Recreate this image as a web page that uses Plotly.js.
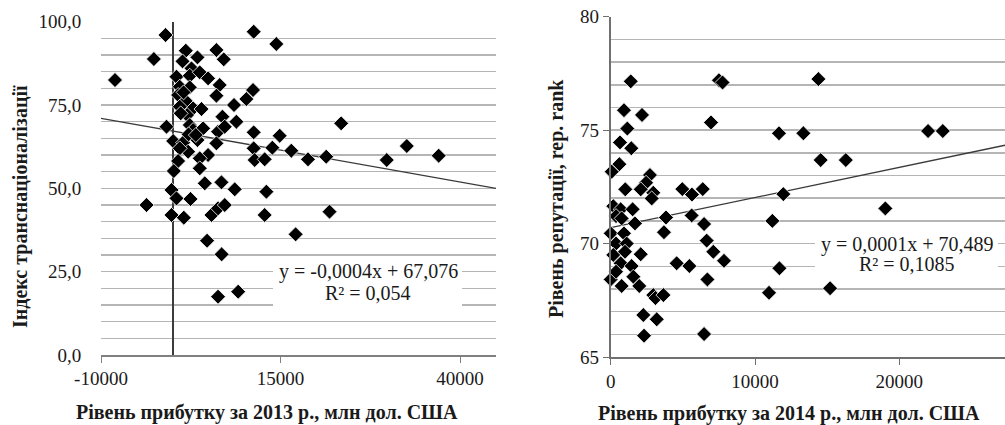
<!DOCTYPE html>
<html><head><meta charset="utf-8">
<script src="https://cdn.plot.ly/plotly-3.0.1.min.js"></script>
<style>html,body{margin:0;padding:0;background:#fff;} #chart{width:1005px;height:425px;}</style>
</head><body><div id="chart"></div>
<script>
// ---- Left chart: profit 2013 vs transnationality index ----
const leftX = [-8050,-3660,-2640,-1010,-880,1810,1350,3430,2600,510,2360,3750,4910,970,2360,740,1810,970,2830,3990,1990,2360,2830,4220,50,1430,3430,2130,970,4910,3750,740,3750,140,4450,-180,510,2460,-180,1530,5380,4770,6300,6070,7090,6530,6070,8520,6910,8850,6300,7230,6070,6770,8620,6300,7230,6800,9100,11260,14410,11170,10240,23440,11260,14880,11260,13860,16500,18820,21360,29790,32580,37020,11400,12790,13030,21820,12790,17100,1500,1100,2200,3200];
const leftY = [82.5,45.0,88.8,96.0,68.5,91.3,88.1,89.3,86.0,83.5,83.8,84.8,83.0,80.5,80.3,78.0,76.2,74.5,74.0,73.8,72.0,69.0,67.5,68.0,64.2,63.7,64.5,61.0,62.0,60.0,59.0,58.2,56.0,55.2,51.5,49.5,47.0,46.8,42.0,41.2,42.0,34.3,17.5,91.5,88.7,81.0,77.8,75.0,71.5,70.0,67.0,68.5,63.5,51.8,49.7,44.0,45.0,30.2,19.0,97.0,93.3,79.5,76.8,69.5,66.8,65.8,62.0,62.2,61.3,58.7,59.5,58.5,62.7,59.8,58.5,58.7,49.0,43.0,42.0,36.2,78.8,72.5,66.2,66.0];
const leftTrendSlope = -0.000382;
const leftTrendIntercept = 67.2;
const leftXRange = [-10000, 45000];
const leftYRange = [0, 100];
const leftXTicks = [-10000, 15000, 40000];
const leftXTickText = ['-10000', '15000', '40000'];
const leftYTicks = [0, 25, 50, 75, 100];
const leftYTickText = ['0,0', '25,0', '50,0', '75,0', '100,0'];
const leftEquation = 'y = -0,0004x + 67,076';
const leftR2 = 'R² = 0,054';
const leftXTitle = 'Рівень прибутку за 2013 р., млн дол. США';
const leftYTitle = 'Індекс транснаціоналізації';

// ---- Right chart: profit 2014 vs reputation ----
const rightX = [1390,7500,7750,920,2170,1150,6950,645,1430,600,70,2720,2450,1010,2080,2950,2840,4960,5630,6380,14390,11660,13350,21990,23010,14550,16290,11960,19030,11200,7850,11690,10970,15200,180,690,1520,370,3830,5610,760,1680,6470,3690,0,920,6650,370,1110,7110,180,990,2080,690,4570,5450,1450,0,370,1570,760,1980,6700,2950,3100,3650,2260,3190,2310,6470];
const rightY = [77.15,77.2,77.1,75.88,75.67,75.07,75.34,74.46,74.2,73.5,73.17,73.02,72.68,72.39,72.39,72.24,71.99,72.4,72.16,72.4,77.25,74.86,74.86,74.96,74.96,73.68,73.68,72.18,71.55,71.0,69.24,68.91,67.83,68.03,71.65,71.51,71.51,71.21,71.15,71.24,71.11,70.89,70.86,70.5,70.45,70.45,70.13,70.0,70.0,69.64,69.5,69.64,69.53,69.13,69.13,69.01,69.01,68.42,68.76,68.54,68.13,68.13,68.42,67.73,67.6,67.73,66.85,66.66,65.94,66.01];
const rightTrendSlope = 0.000133;
const rightTrendIntercept = 70.70;
const rightXRange = [0, 27320];
const rightYRange = [65, 80];
const rightXTicks = [0, 10000, 20000];
const rightXTickText = ['0', '10000', '20000'];
const rightYTicks = [65, 70, 75, 80];
const rightYTickText = ['65', '70', '75', '80'];
const rightEquation = 'y = 0,0001x + 70,489';
const rightR2 = 'R² = 0,1085';
const rightXTitle = 'Рівень прибутку за 2014 р., млн дол. США';
const rightYTitle = 'Рівень репутації, rep. rank';

const W = 1005, H = 425;
const fx = p => p / W, fy = p => 1 - p / H;
const FONT = 'Liberation Serif';
const TXT = '#1a1a1a';
const GRID = '#b5b5b5';

const marker = {symbol: 'diamond', size: 11.5, color: '#000', line: {color: '#ffffff', width: 0.8}};

const traces = [
  {type: 'scatter', mode: 'lines', x: leftXRange, y: leftXRange.map(v => leftTrendIntercept + leftTrendSlope * v),
   xaxis: 'x', yaxis: 'y', line: {color: '#3a3a3a', width: 1.3}, hoverinfo: 'skip'},
  {type: 'scatter', mode: 'markers', x: leftX, y: leftY, xaxis: 'x', yaxis: 'y', marker: marker, cliponaxis: false},
  {type: 'scatter', mode: 'lines', x: rightXRange, y: rightXRange.map(v => rightTrendIntercept + rightTrendSlope * v),
   xaxis: 'x2', yaxis: 'y2', line: {color: '#3a3a3a', width: 1.3}, hoverinfo: 'skip'},
  {type: 'scatter', mode: 'markers', x: rightX, y: rightY, xaxis: 'x2', yaxis: 'y2', marker: marker, cliponaxis: false}
];

const tickFont = {family: FONT, size: 19, color: TXT};
const titleFont = {family: FONT, size: 20, color: TXT};
const annFont = {family: FONT, size: 20, color: TXT};

const layout = {
  width: W, height: H, margin: {l: 0, r: 0, t: 0, b: 0},
  paper_bgcolor: '#fff', plot_bgcolor: '#fff', showlegend: false,
  font: {family: FONT, size: 19, color: TXT},
  xaxis: {domain: [fx(101), fx(496)], range: leftXRange, tickmode: 'array', tickvals: leftXTicks, ticktext: leftXTickText,
    showgrid: false, zeroline: true, zerolinecolor: '#3c3c3c', zerolinewidth: 1.5,
    showline: true, linecolor: '#808080', linewidth: 1.5, ticks: 'outside', ticklen: 6, tickcolor: '#808080',
    tickfont: tickFont, anchor: 'y', fixedrange: true},
  yaxis: {domain: [fy(355), fy(21.7)], range: leftYRange, tickmode: 'array', tickvals: leftYTicks, ticktext: leftYTickText,
    showgrid: true, gridcolor: GRID, gridwidth: 1.5,
    minor: {dtick: 5, showgrid: true, gridcolor: GRID, gridwidth: 1.5},
    zeroline: false, showline: false, ticks: 'outside', ticklen: 15, tickcolor: 'rgba(255,255,255,0)',
    tickfont: tickFont, anchor: 'x', fixedrange: true},
  xaxis2: {domain: [fx(610.7), 1], range: rightXRange, tickmode: 'array', tickvals: rightXTicks, ticktext: rightXTickText,
    showgrid: false, zeroline: false, showline: true, linecolor: '#707070', linewidth: 2,
    ticks: 'outside', ticklen: 6, tickcolor: '#707070', tickfont: tickFont, anchor: 'y2', fixedrange: true},
  yaxis2: {domain: [fy(357), fy(16.7)], range: rightYRange, tickmode: 'array', tickvals: rightYTicks, ticktext: rightYTickText,
    showgrid: true, gridcolor: GRID, gridwidth: 1.5,
    minor: {dtick: 1, showgrid: true, gridcolor: GRID, gridwidth: 1.5},
    zeroline: false, showline: true, linecolor: '#707070', linewidth: 2,
    ticks: 'outside', ticklen: 6, tickcolor: '#707070', tickfont: tickFont, anchor: 'x2', fixedrange: true},
  shapes: [
    {type: 'rect', xref: 'x', yref: 'y', x0: 13950, x1: 40270, y0: 14.3, y1: 29.3, fillcolor: '#fff', line: {width: 0}, layer: 'between'},
    {type: 'rect', xref: 'x2', yref: 'y2', x0: 14156, x1: 26836, y0: 68.4, y1: 70.6, fillcolor: '#fff', line: {width: 0}, layer: 'between'}
  ],
  annotations: [
    {xref: 'paper', yref: 'paper', x: fx(368), y: fy(271), text: leftEquation, showarrow: false, font: annFont, xanchor: 'center', yanchor: 'middle'},
    {xref: 'paper', yref: 'paper', x: fx(368), y: fy(293), text: leftR2, showarrow: false, font: annFont, xanchor: 'center', yanchor: 'middle'},
    {xref: 'paper', yref: 'paper', x: fx(907), y: fy(244), text: rightEquation, showarrow: false, font: annFont, xanchor: 'center', yanchor: 'middle'},
    {xref: 'paper', yref: 'paper', x: fx(907), y: fy(264), text: rightR2, showarrow: false, font: annFont, xanchor: 'center', yanchor: 'middle'},
    {xref: 'paper', yref: 'paper', x: fx(267), y: fy(412), text: '<b>' + leftXTitle + '</b>', showarrow: false, font: titleFont, xanchor: 'center', yanchor: 'middle'},
    {xref: 'paper', yref: 'paper', x: fx(789), y: fy(413), text: '<b>' + rightXTitle + '</b>', showarrow: false, font: titleFont, xanchor: 'center', yanchor: 'middle'},
    {xref: 'paper', yref: 'paper', x: fx(20), y: fy(207), text: '<b>' + leftYTitle + '</b>', showarrow: false, font: titleFont, textangle: -90, xanchor: 'center', yanchor: 'middle'},
    {xref: 'paper', yref: 'paper', x: fx(556), y: fy(199), text: '<b>' + rightYTitle + '</b>', showarrow: false, font: titleFont, textangle: -90, xanchor: 'center', yanchor: 'middle'}
  ]
};

Plotly.newPlot('chart', traces, layout, {displayModeBar: false, staticPlot: true});
</script></body></html>
